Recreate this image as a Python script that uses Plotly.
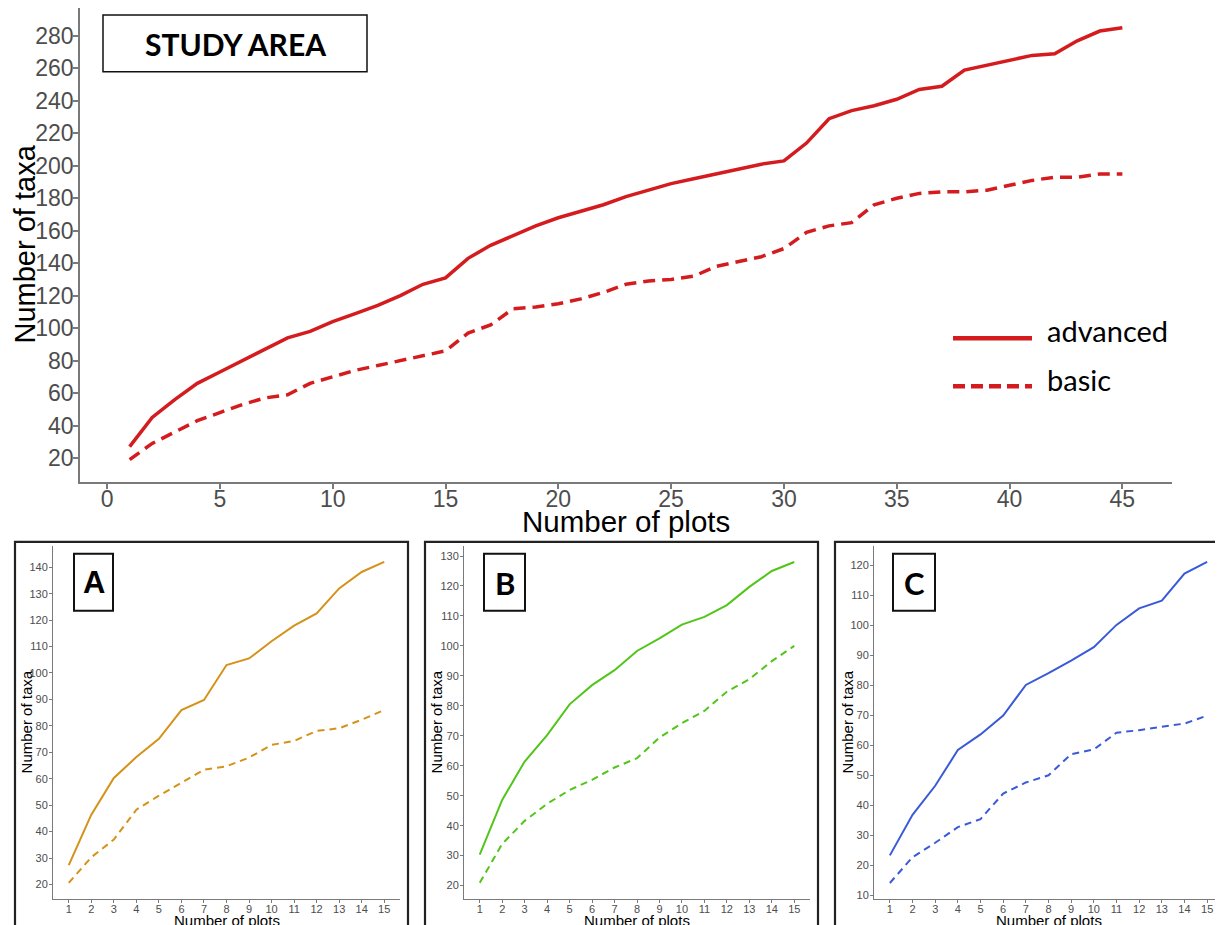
import plotly.graph_objects as go

# ---------------- data ----------------
main_plots = list(range(1, 46))
main_advanced = [27, 45, 56, 66, 73, 80, 87, 94, 98, 104, 109, 114, 120, 127, 131,
                 143, 151, 157, 163, 168, 172, 176, 181, 185, 189, 192, 195, 198, 201, 203,
                 214, 229, 234, 237, 241, 247, 249, 259, 262, 265, 268, 269, 277, 283, 285]
main_basic = [19, 29, 36, 43, 48, 53, 57, 59, 66, 70, 74, 77, 80, 83, 86,
              97, 102, 112, 113, 115, 118, 122, 127, 129, 130, 132, 138, 141, 144, 149,
              159, 163, 165, 176, 180, 183, 184, 184, 185, 188, 191, 193, 193, 195, 195]

panel_plots = list(range(1, 16))
A_advanced = [27.3, 46.4, 60.3, 68.2, 75.1, 86.0, 89.8, 103.0, 105.5, 112.0, 117.9, 122.5, 132.0, 138.2, 142.0]
A_basic = [20.6, 30.3, 37.0, 48.3, 53.6, 58.4, 63.4, 64.7, 68.0, 72.8, 74.3, 78.1, 79.1, 82.3, 86.0]
B_advanced = [30.3, 48.6, 61.4, 70.2, 80.5, 86.9, 91.9, 98.3, 102.5, 107.1, 109.7, 113.6, 119.7, 125.0, 128.0]
B_basic = [20.9, 33.9, 41.6, 47.3, 51.9, 55.3, 59.4, 62.5, 69.4, 74.2, 78.3, 84.7, 88.9, 94.9, 100.0]
C_advanced = [23.3, 36.8, 46.5, 58.4, 63.6, 69.9, 80.1, 84.0, 88.2, 92.7, 100.1, 105.6, 108.2, 117.2, 121.1]
C_basic = [14.1, 22.7, 27.5, 32.7, 35.4, 43.9, 47.6, 50.0, 57.0, 58.6, 64.2, 65.0, 66.2, 67.2, 69.9]

main_xticks = [0, 5, 10, 15, 20, 25, 30, 35, 40, 45]
main_yticks = list(range(20, 281, 20))
A_yticks = list(range(20, 141, 10))
B_yticks = list(range(20, 131, 10))
C_yticks = list(range(10, 121, 10))

series_labels = ["advanced", "basic"]
panel_labels = ["A", "B", "C"]
main_label = "STUDY AREA"

# ---------------- styling ----------------
OFF = 8  # default page body margin
W, H = 1223 - OFF, 925 - OFF
RED = "#d41c1f"
COL_A = "#d4921a"
COL_B = "#52c51a"
COL_C = "#3a5ad8"
TICKCOL = "#4d4d4d"
AXCOL = "#7a7a7a"


def px(x):
    return min(1.0, max(0.0, (x - OFF) / W))


def py(y):
    return 1 - (y - OFF) / H


def pyc(y):
    return min(1.0, max(0.0, py(y)))


fig = go.Figure()

fig.add_trace(go.Scatter(x=main_plots, y=main_advanced, mode="lines",
                         line=dict(color=RED, width=3.5), xaxis="x", yaxis="y",
                         name=series_labels[0], showlegend=False))
fig.add_trace(go.Scatter(x=main_plots, y=main_basic, mode="lines",
                         line=dict(color=RED, width=3.5, dash="12px,7px"), xaxis="x", yaxis="y",
                         name=series_labels[1], showlegend=False))

panels = [
    (A_advanced, A_basic, COL_A, "x2", "y2"),
    (B_advanced, B_basic, COL_B, "x3", "y3"),
    (C_advanced, C_basic, COL_C, "x4", "y4"),
]
for adv, bas, col, xa, ya in panels:
    fig.add_trace(go.Scatter(x=panel_plots, y=adv, mode="lines",
                             line=dict(color=col, width=2), xaxis=xa, yaxis=ya,
                             name=series_labels[0], showlegend=False))
    fig.add_trace(go.Scatter(x=panel_plots, y=bas, mode="lines",
                             line=dict(color=col, width=2, dash="7px,5px"), xaxis=xa, yaxis=ya,
                             name=series_labels[1], showlegend=False))


def axis(domain, rng, tickvals, fontsize, anchor, lw, tl, standoff):
    return dict(domain=domain, range=rng, tickvals=tickvals, ticks="outside",
                ticklen=tl, tickwidth=lw, tickcolor=AXCOL, showline=True,
                linecolor=AXCOL, linewidth=lw, showgrid=False, zeroline=False,
                ticklabelstandoff=standoff,
                tickfont=dict(family="Liberation Sans, Arial", size=fontsize, color=TICKCOL),
                anchor=anchor, fixedrange=True)


layout = dict(
    width=W, height=H, autosize=False,
    margin=dict(l=0, r=0, t=0, b=0),
    paper_bgcolor="white", plot_bgcolor="white",
    showlegend=False,
    xaxis=axis([px(80), px(1172)], [-1.2, 47.2], main_xticks, 23, "y", 1.8, 5, -9),
    yaxis=axis([pyc(483), pyc(7)], [5.25, 297.2], main_yticks, 23, "x", 1.8, 5, -5),
    xaxis2=axis([px(53), px(400)], [0.3, 15.7], panel_plots, 11, "y2", 1, 3, -3),
    yaxis2=axis([pyc(901), pyc(547)], [14.5, 148.1], A_yticks, 11, "x2", 1, 3, -1),
    xaxis3=axis([px(464), px(810)], [0.3, 15.7], panel_plots, 11, "y3", 1, 3, -3),
    yaxis3=axis([pyc(901), pyc(547)], [15.5, 133.4], B_yticks, 11, "x3", 1, 3, -1),
    xaxis4=axis([px(874), px(1223)], [0.3, 15.7], panel_plots, 11, "y4", 1, 3, -3),
    yaxis4=axis([pyc(901), pyc(547)], [8.75, 126.45], C_yticks, 11, "x4", 1, 3, -1),
)
fig.update_layout(**layout)

shapes = []
annotations = []

# panel frames
for x0, x1 in [(15, 408), (425, 818), (835, 1232)]:
    shapes.append(dict(type="rect", xref="paper", yref="paper",
                       x0=(x0 - OFF) / W, x1=(x1 - OFF) / W, y0=py(945), y1=py(543),
                       line=dict(color="#222222", width=2.2), fillcolor="rgba(0,0,0,0)"))

# STUDY AREA box
shapes.append(dict(type="rect", xref="paper", yref="paper",
                   x0=px(103), x1=px(367), y0=py(72), y1=py(15),
                   line=dict(color="#111111", width=1.5), fillcolor="white"))
annotations.append(dict(text="<b>" + main_label + "</b>", xref="paper", yref="paper",
                        x=px(235), y=py(44), xanchor="center", yanchor="middle",
                        showarrow=False, font=dict(family="Lato", size=30, color="black")))

# panel label boxes
for lab, x0, x1, fam in [(panel_labels[0], 74, 113, "Liberation Sans"),
                         (panel_labels[1], 484, 525, "Lato"),
                         (panel_labels[2], 893, 935, "Lato")]:
    shapes.append(dict(type="rect", xref="paper", yref="paper",
                       x0=px(x0), x1=px(x1), y0=py(612), y1=py(555),
                       line=dict(color="#111111", width=2), fillcolor="white"))
    annotations.append(dict(text="<b>" + lab + "</b>", xref="paper", yref="paper",
                            x=px((x0 + x1) / 2), y=py(584), xanchor="center", yanchor="middle",
                            showarrow=False, font=dict(family=fam, size=31, color="black")))

# main legend
shapes.append(dict(type="line", xref="paper", yref="paper", x0=px(953), x1=px(1032),
                   y0=py(339), y1=py(339), line=dict(color=RED, width=4.5)))
shapes.append(dict(type="line", xref="paper", yref="paper", x0=px(953), x1=px(1032),
                   y0=py(387), y1=py(387), line=dict(color=RED, width=4.5, dash="12px,6px")))
annotations.append(dict(text=series_labels[0], xref="paper", yref="paper", x=px(1045), y=py(331),
                        xanchor="left", yanchor="middle", showarrow=False,
                        font=dict(family="Lato", size=29, color="black")))
annotations.append(dict(text=series_labels[1], xref="paper", yref="paper", x=px(1045), y=py(380),
                        xanchor="left", yanchor="middle", showarrow=False,
                        font=dict(family="Lato", size=29, color="black")))

# axis titles
AF = "Liberation Sans, Arial"
annotations.append(dict(text="Number of taxa", xref="paper", yref="paper", x=px(25), y=py(245),
                        xanchor="center", yanchor="middle", textangle=-90, showarrow=False,
                        font=dict(family=AF, size=29, color="black")))
annotations.append(dict(text="Number of plots", xref="paper", yref="paper", x=px(626), y=py(523),
                        xanchor="center", yanchor="middle", showarrow=False,
                        font=dict(family=AF, size=29.5, color="black")))
for cx, ycx in [(226.5, 26), (637, 436), (1048.5, 847)]:
    annotations.append(dict(text="Number of plots", xref="paper", yref="paper", x=px(cx), y=py(922),
                            xanchor="center", yanchor="middle", showarrow=False,
                            font=dict(family=AF, size=15, color="black")))
    annotations.append(dict(text="Number of taxa", xref="paper", yref="paper", x=px(ycx), y=py(724),
                            xanchor="center", yanchor="middle", textangle=-90, showarrow=False,
                            font=dict(family=AF, size=15, color="black")))

fig.update_layout(shapes=shapes, annotations=annotations)
fig.write_html("out.html")
